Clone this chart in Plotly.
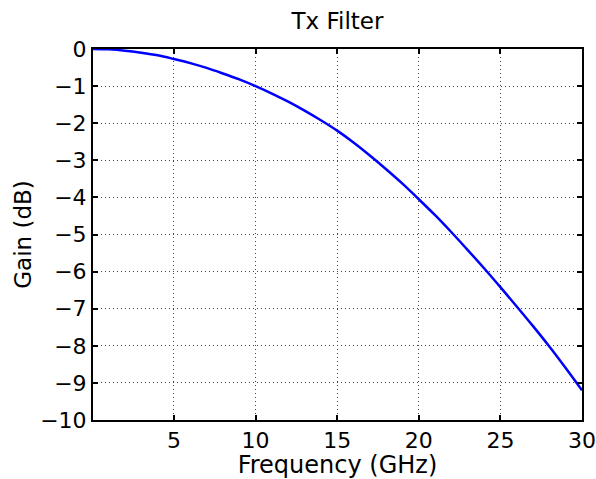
import plotly.graph_objects as go

# Data
freq_ghz = [0.04, 1, 2, 3, 4, 5, 6, 7, 8, 9, 10, 11, 12, 13, 14, 15, 16, 17, 18, 19,
            20, 21, 22, 23, 24, 25, 26, 27, 28, 29, 30]
gain_db = [0.0, -0.01, -0.045, -0.10, -0.17, -0.27, -0.38, -0.51, -0.66, -0.82, -1.0,
           -1.2, -1.42, -1.66, -1.92, -2.2, -2.52, -2.87, -3.24, -3.63, -4.05, -4.48,
           -4.94, -5.42, -5.91, -6.42, -6.94, -7.47, -8.02, -8.6, -9.2]

x_ticks = [5, 10, 15, 20, 25, 30]
y_ticks = [0, -1, -2, -3, -4, -5, -6, -7, -8, -9, -10]
y_ticktext = [("\u2212" + str(abs(v))) if v < 0 else str(v) for v in y_ticks]

title_text = "Tx Filter"
x_label = "Frequency (GHz)"
y_label = "Gain (dB)"

FONT = "DejaVu Sans"

fig = go.Figure()
fig.add_trace(go.Scatter(
    x=freq_ghz, y=gain_db, mode="lines",
    line=dict(color="#0000ff", width=2.5, shape="spline"),
    showlegend=False, hoverinfo="skip",
))

axis_common = dict(
    showline=True, linecolor="black", linewidth=2, mirror="ticks",
    ticks="inside", ticklen=5, tickwidth=1.5, tickcolor="black",
    showgrid=True, gridcolor="#444444", gridwidth=1, griddash="1px,3px",
    zeroline=False, automargin=False,
    tickfont=dict(family=FONT, size=22, color="black"),
)

fig.update_layout(
    width=596, height=479,
    margin=dict(l=93, r=14, t=49, b=59),
    paper_bgcolor="white", plot_bgcolor="white",
    title=dict(text=title_text, x=0.5, xanchor="center", xref="paper",
               y=1, yref="paper", yanchor="bottom", pad=dict(b=20),
               font=dict(family=FONT, size=23, color="black")),
    xaxis=dict(
        range=[0.04, 30], tickvals=x_ticks, ticktext=[str(v) for v in x_ticks],
        title=dict(text=x_label, font=dict(family=FONT, size=24, color="black"), standoff=0),
        **axis_common,
    ),
    yaxis=dict(
        range=[-10, 0], tickvals=y_ticks, ticktext=y_ticktext,
        title=dict(text=y_label, font=dict(family=FONT, size=23, color="black"), standoff=2),
        **axis_common,
    ),
)

fig.write_html("out.html")
